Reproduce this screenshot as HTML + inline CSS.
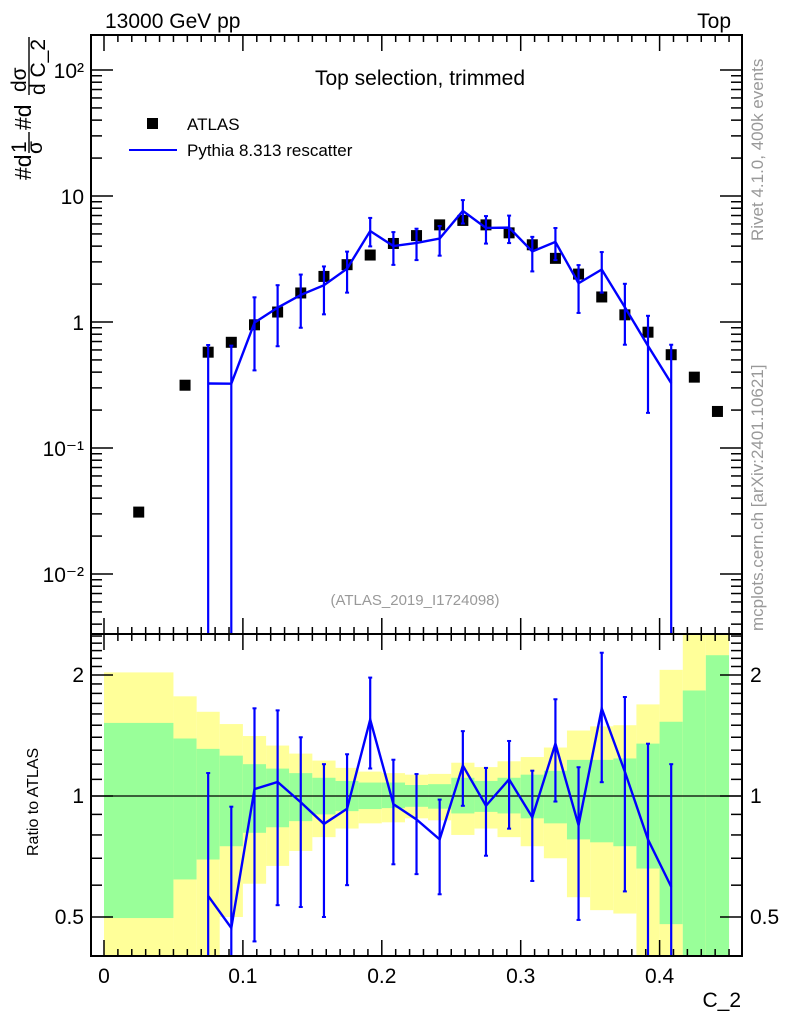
<!DOCTYPE html>
<html><head><meta charset="utf-8"><style>
html,body{margin:0;padding:0;background:#fff;}
svg{display:block;font-family:"Liberation Sans",sans-serif;}
</style></head><body>
<svg id="chart" width="786" height="1024" viewBox="0 0 786 1024" xmlns="http://www.w3.org/2000/svg">
<g id="ratio-bands"></g>
<g id="main-marks"></g>
<g id="ratio-marks"></g>
<g id="axes"></g>
<text x="105" y="28" font-size="21">13000 GeV pp</text>
<text x="731" y="28" font-size="21" text-anchor="end">Top</text>
<text x="420" y="85" font-size="21" text-anchor="middle">Top selection, trimmed</text>
<rect x="147" y="118" width="11" height="11" fill="#000"/>
<text x="187" y="130" font-size="17">ATLAS</text>
<line x1="129" y1="150" x2="177" y2="150" stroke="#0000ff" stroke-width="2"/>
<text x="187" y="156" font-size="17">Pythia 8.313 rescatter</text>
<text x="415" y="605" font-size="15" fill="#999" text-anchor="middle">(ATLAS_2019_I1724098)</text>
<text transform="translate(763,241) rotate(-90)" font-size="17" fill="#999">Rivet 4.1.0,  400k events</text>
<text transform="translate(763,631) rotate(-90)" font-size="17" fill="#999">mcplots.cern.ch [arXiv:2401.10621]</text>
<g font-size="23">
<text transform="translate(31,180) rotate(-90)">#d</text>
<text transform="translate(42,154) rotate(-90)" font-size="21">σ</text>
<text transform="translate(26,153) rotate(-90)" font-size="21">1</text>
<line x1="29" y1="132" x2="29" y2="153" stroke="#000" stroke-width="1.4"/>
<text transform="translate(31,130) rotate(-90)">#d</text>
<text transform="translate(26,92) rotate(-90)" font-size="21">dσ</text>
<text transform="translate(45,95) rotate(-90)" font-size="21">d C_2</text>
<line x1="29" y1="37" x2="29" y2="95" stroke="#000" stroke-width="1.4"/>
</g>
<text transform="translate(38,856) rotate(-90)" font-size="16">Ratio to ATLAS</text>
<text x="741" y="1007" font-size="21" text-anchor="end">C_2</text>
</svg>
<script>
const binEdges = [0,0.05,0.0667,0.0833,0.1,0.1167,0.1333,0.15,0.1667,0.1833,0.2,0.2167,0.2333,0.25,0.2667,0.2833,0.3,0.3167,0.3333,0.35,0.3667,0.3833,0.4,0.4167,0.4333,0.45];
const atlasValues = [0.031,0.315,0.576,0.69,0.95,1.2,1.7,2.3,2.85,3.4,4.2,4.85,5.9,6.4,5.9,5.1,4.1,3.2,2.4,1.58,1.14,0.83,0.55,0.365,0.195];
const mcValues = [null,null,0.325,0.324,0.988,1.30,1.64,1.96,2.65,5.27,4.01,4.24,4.60,7.62,5.58,5.61,3.63,4.32,2.03,2.61,1.31,0.647,0.327,null,null];
const mcHigh = [null,null,0.657,0.649,1.57,1.96,2.38,2.76,3.62,6.70,5.17,5.50,5.78,9.28,6.93,6.99,4.74,5.57,2.83,3.59,2.01,1.12,0.66,null,null];
const mcLow = [null,null,0.00001,0.00001,0.413,0.642,0.90,1.15,1.71,3.98,2.84,3.10,3.36,6.05,4.19,4.23,2.52,3.10,1.18,1.71,0.66,0.19,0.00001,null,null];
const yellowHigh = [2.03,1.77,1.62,1.51,1.41,1.335,1.275,1.225,1.175,1.15,1.14,1.13,1.135,1.21,1.18,1.22,1.25,1.32,1.455,1.49,1.5,1.69,2.06,3,3];
const yellowLow = [0.3,0.3,0.3,0.5,0.605,0.67,0.73,0.79,0.83,0.855,0.86,0.88,0.87,0.8,0.83,0.79,0.75,0.7,0.56,0.52,0.51,0.3,0.3,0.3,0.3];
const greenHigh = [1.52,1.39,1.31,1.26,1.2,1.17,1.14,1.11,1.09,1.08,1.08,1.065,1.07,1.11,1.09,1.11,1.13,1.155,1.23,1.23,1.24,1.35,1.53,1.83,2.24];
const greenLow = [0.497,0.62,0.695,0.75,0.81,0.836,0.866,0.9,0.917,0.928,0.933,0.94,0.93,0.905,0.913,0.905,0.88,0.855,0.78,0.767,0.75,0.66,0.48,0.3,0.3];
const xTickLabels = ["0","0.1","0.2","0.3","0.4"];
const mainTickLabels = ["10⁻²","10⁻¹","1","10","10²"];
const ratioTickLabels = ["0.5","1","2"];

const NS="http://www.w3.org/2000/svg";
const L=91,R=742,MT=35,MB=634,RT=634,RB=956;
const X=v=>104+1389*v;
const Ym=v=>322-126*Math.log10(v);
const Yr=v=>796-121*Math.log2(v);
const clampM=y=>Math.max(MT,Math.min(MB,y));
const clampR=y=>Math.max(RT,Math.min(RB,y));
function mk(parent,tag,attrs){const e=document.createElementNS(NS,tag);for(const k in attrs)e.setAttribute(k,attrs[k]);parent.appendChild(e);return e;}
const bands=document.getElementById('ratio-bands');
const mm=document.getElementById('main-marks');
const rm=document.getElementById('ratio-marks');
const ax=document.getElementById('axes');
const centers=atlasValues.map((_,i)=>(binEdges[i]+binEdges[i+1])/2);

for(let i=0;i<atlasValues.length;i++){
  const x0=X(binEdges[i]),x1=X(binEdges[i+1]);
  const yt=clampR(Yr(yellowHigh[i])),yb=clampR(Yr(yellowLow[i]));
  const r1=mk(bands,'rect',{x:x0,y:yt,width:x1-x0,height:yb-yt,fill:'#ffff99'});
  
  
  const gt=clampR(Yr(greenHigh[i])),gb=clampR(Yr(greenLow[i]));
  const r2=mk(bands,'rect',{x:x0,y:gt,width:x1-x0,height:gb-gt,fill:'#99ff99'});
  
  
}
const one=mk(rm,'line',{x1:L,x2:R,y1:Yr(1),y2:Yr(1),stroke:'#000','stroke-width':1.2});



let mainPts=[],ratioPts=[];
for(let i=0;i<atlasValues.length;i++){
  const cx=X(centers[i]);
  const d=mk(mm,'rect',{x:cx-5.5,y:Ym(atlasValues[i])-5.5,width:11,height:11,fill:'#000'});
  
  
  if(mcValues[i]==null)continue;
  mainPts.push([cx,clampM(Ym(mcValues[i]))]);
  ratioPts.push([cx,clampR(Yr(mcValues[i]/atlasValues[i]))]);
  const yh=clampM(Ym(mcHigh[i])),yl=clampM(Ym(mcLow[i]));
  const e=mk(mm,'line',{x1:cx,x2:cx,y1:yh,y2:yl,stroke:'#0000ff','stroke-width':2.2});
  
  
  mk(mm,'line',{x1:cx-2,x2:cx+2,y1:yh,y2:yh,stroke:'#0000ff','stroke-width':2});
  const rh=clampR(Yr(mcHigh[i]/atlasValues[i])),rl=clampR(Yr(mcLow[i]/atlasValues[i]));
  const e2=mk(rm,'line',{x1:cx,x2:cx,y1:rh,y2:rl,stroke:'#0000ff','stroke-width':2.2});
  
  
  mk(rm,'line',{x1:cx-2,x2:cx+2,y1:rh,y2:rh,stroke:'#0000ff','stroke-width':2});
  if(rl<RB)mk(rm,'line',{x1:cx-2,x2:cx+2,y1:rl,y2:rl,stroke:'#0000ff','stroke-width':2});
  if(yl<MB)mk(mm,'line',{x1:cx-2,x2:cx+2,y1:yl,y2:yl,stroke:'#0000ff','stroke-width':2});
}
const ml=mk(mm,'polyline',{points:mainPts.map(p=>p.join(',')).join(' '),fill:'none',stroke:'#0000ff','stroke-width':2.4});


const rl2=mk(rm,'polyline',{points:ratioPts.map(p=>p.join(',')).join(' '),fill:'none',stroke:'#0000ff','stroke-width':2.4});



const f1=mk(ax,'rect',{x:L,y:MT,width:R-L,height:MB-MT,fill:'none',stroke:'#000','stroke-width':2});


const f2=mk(ax,'rect',{x:L,y:RT,width:R-L,height:RB-RT,fill:'none',stroke:'#000','stroke-width':2});


for(let k=0;k<=45;k++){
  const v=k/100,x=X(v),maj=k%10===0,len=maj?16:7;
  mk(ax,'line',{x1:x,x2:x,y1:MT,y2:MT+len,stroke:'#000','stroke-width':1.5});
  mk(ax,'line',{x1:x,x2:x,y1:MB,y2:MB-len,stroke:'#000','stroke-width':1.5});
  mk(ax,'line',{x1:x,x2:x,y1:RT,y2:RT+len,stroke:'#000','stroke-width':1.5});
  mk(ax,'line',{x1:x,x2:x,y1:RB,y2:RB-len,stroke:'#000','stroke-width':1.5});
}
xTickLabels.forEach((t,i)=>{
  const tx=mk(ax,'text',{x:X(i*0.1),y:983,'font-size':21,'text-anchor':'middle'});
  tx.textContent=t;
  
  
});
for(let e=-3;e<=2;e++){for(let m=1;m<=9;m++){
  const v=m*Math.pow(10,e),y=Ym(v);if(y<MT||y>MB)continue;
  const len=m===1?22:11;
  mk(ax,'line',{x1:L,x2:L+len,y1:y,y2:y,stroke:'#000','stroke-width':1.5});
  mk(ax,'line',{x1:R,x2:R-len,y1:y,y2:y,stroke:'#000','stroke-width':1.5});
}}
mainTickLabels.forEach((t,i)=>{
  const tx=mk(ax,'text',{x:84,y:Ym(Math.pow(10,i-2))+8,'font-size':21,'text-anchor':'end'});
  tx.textContent=t;
  
  
});
const rt=[0.4,0.5,0.6,0.7,0.8,0.9,1,1.1,1.2,1.3,1.4,1.5,1.6,1.7,1.8,1.9,2,2.1,2.2,2.3,2.4,2.5];
rt.forEach(v=>{const y=Yr(v);if(y<RT||y>RB)return;const maj=(v===0.5||v===1||v===2);const len=maj?22:11;
  mk(ax,'line',{x1:L,x2:L+len,y1:y,y2:y,stroke:'#000','stroke-width':1.5});
  mk(ax,'line',{x1:R,x2:R-len,y1:y,y2:y,stroke:'#000','stroke-width':1.5});});
ratioTickLabels.forEach(t=>{
  const y=Yr(parseFloat(t))+7;
  const a=mk(ax,'text',{x:84,y:y,'font-size':21,'text-anchor':'end'});a.textContent=t;
  
  
  const b=mk(ax,'text',{x:750,y:y,'font-size':21});b.textContent=t;
  
  
});
</script>
</body></html>
